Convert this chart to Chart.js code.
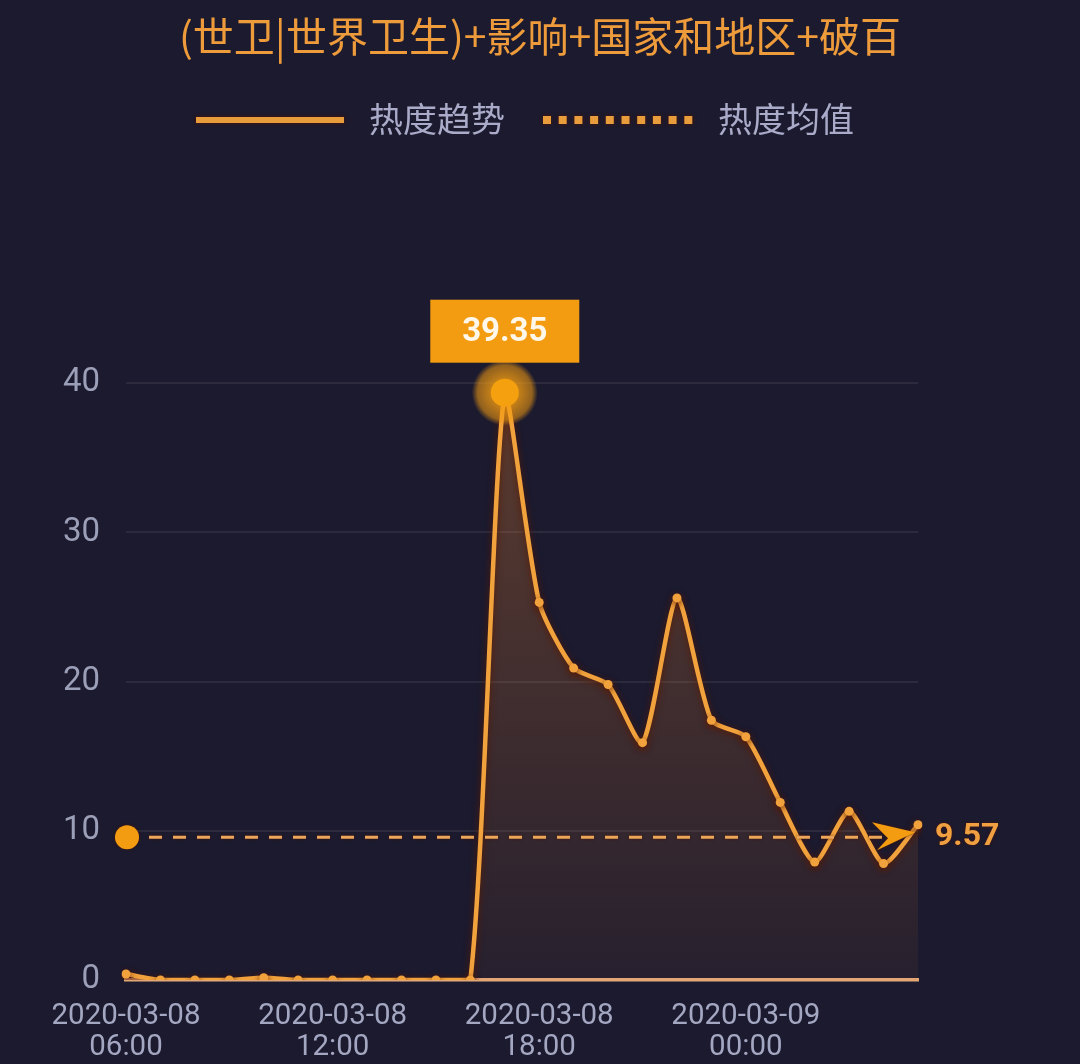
<!DOCTYPE html>
<html>
<head>
<meta charset="utf-8">
<script src="https://cdn.jsdelivr.net/npm/chart.js@4.4.1/dist/chart.umd.min.js"></script>
<style>
  html, body { margin: 0; padding: 0; background: #1c1a2e; }
  #wrap { width: 1080px; height: 1064px; }
</style>
</head>
<body>
<div id="wrap"><canvas id="grafico" width="1080" height="1064"></canvas></div>
<script>
// dati del grafico
const titolo = '(世卫|世界卫生)+影响+国家和地区+破百';
const legendaNomi = ['热度趋势', '热度均值'];
const orari = [
  '2020-03-08 06:00', '2020-03-08 07:00', '2020-03-08 08:00', '2020-03-08 09:00',
  '2020-03-08 10:00', '2020-03-08 11:00', '2020-03-08 12:00', '2020-03-08 13:00',
  '2020-03-08 14:00', '2020-03-08 15:00', '2020-03-08 16:00', '2020-03-08 17:00',
  '2020-03-08 18:00', '2020-03-08 19:00', '2020-03-08 20:00', '2020-03-08 21:00',
  '2020-03-08 22:00', '2020-03-08 23:00', '2020-03-09 00:00', '2020-03-09 01:00',
  '2020-03-09 02:00', '2020-03-09 03:00', '2020-03-09 04:00', '2020-03-09 05:00'
];
const valori = [0.4, 0, 0, 0, 0.15, 0, 0, 0, 0, 0, 0, 39.35,
                25.3, 20.9, 19.8, 15.9, 25.6, 17.4, 16.3, 11.9, 7.9, 11.3, 7.8, 10.4];
const media = 9.57;
const yTicks = [0, 10, 20, 30, 40];

const ARANCIO = '#f2a23c';
const FONT = "Roboto, 'Noto Sans CJK SC', sans-serif";
const FONT_CJK = "'Noto Sans CJK SC', Roboto, sans-serif";

// sfondo
const sfondo = {
  id: 'sfondo',
  beforeDraw(chart) {
    const ctx = chart.ctx;
    ctx.save();
    ctx.fillStyle = '#1c1a2e';
    ctx.fillRect(0, 0, chart.width, chart.height);
    ctx.restore();
  }
};

// titolo e legenda
const titoloLegenda = {
  id: 'titoloLegenda',
  afterDraw(chart) {
    const ctx = chart.ctx;
    ctx.save();
    ctx.fillStyle = '#ee9b3b';
    ctx.font = '41px ' + FONT_CJK;
    ctx.textAlign = 'center';
    ctx.textBaseline = 'middle';
    ctx.fillText(titolo, 540, 36);

    // linea continua
    ctx.shadowColor = 'rgba(80,20,0,0.9)';
    ctx.shadowBlur = 4;
    ctx.strokeStyle = '#e89c3c';
    ctx.lineWidth = 6;
    ctx.beginPath();
    ctx.moveTo(196, 120);
    ctx.lineTo(344, 120);
    ctx.stroke();
    // quadratini
    ctx.fillStyle = '#e89c3c';
    for (let i = 0; i < 10; i++) {
      ctx.fillRect(543 + i * 15.7, 116, 8, 8);
    }
    ctx.shadowBlur = 0;
    ctx.shadowColor = 'transparent';

    ctx.fillStyle = '#a9abc9';
    ctx.font = '34px ' + FONT_CJK;
    ctx.textAlign = 'left';
    ctx.fillText(legendaNomi[0], 369, 119);
    ctx.fillText(legendaNomi[1], 718, 119);
    ctx.restore();
  }
};

// ombra della linea
const ombraLinea = {
  id: 'ombraLinea',
  beforeDatasetDraw(chart) {
    const ctx = chart.ctx;
    ctx.save();
    ctx.shadowColor = 'rgba(90,25,0,0.95)';
    ctx.shadowBlur = 7;
    ctx.shadowOffsetY = 2;
  },
  afterDatasetDraw(chart) {
    chart.ctx.restore();
  }
};

// linea della media
const lineaMedia = {
  id: 'lineaMedia',
  afterDatasetsDraw(chart) {
    const ctx = chart.ctx;
    const area = chart.chartArea;
    const y = chart.scales.y.getPixelForValue(media);
    ctx.save();
    ctx.shadowColor = 'rgba(80,20,0,0.8)';
    ctx.shadowBlur = 3;
    ctx.strokeStyle = '#eba65a';
    ctx.lineWidth = 3;
    ctx.setLineDash([13, 11]);
    ctx.beginPath();
    ctx.moveTo(area.left + 23, y);
    ctx.lineTo(area.right - 30, y);
    ctx.stroke();
    ctx.setLineDash([]);

    // pallino iniziale
    ctx.fillStyle = '#f39c12';
    ctx.beginPath();
    ctx.arc(area.left + 1, y, 12, 0, Math.PI * 2);
    ctx.fill();

    // freccia
    const tx = area.right, ty = y;
    ctx.fillStyle = '#f39c12';
    ctx.beginPath();
    ctx.moveTo(tx - 3, ty - 5);
    ctx.lineTo(tx - 46, ty - 15);
    ctx.lineTo(tx - 30, ty + 1);
    ctx.lineTo(tx - 41, ty + 13);
    ctx.closePath();
    ctx.fill();

    ctx.fillStyle = '#f0a040';
    ctx.font = 'bold 32px ' + FONT;
    ctx.textAlign = 'left';
    ctx.textBaseline = 'middle';
    ctx.fillText(media.toFixed(2), area.right + 17, y);
    ctx.restore();
  }
};

// etichetta del massimo
const etichettaMax = {
  id: 'etichettaMax',
  afterDatasetsDraw(chart) {
    const ctx = chart.ctx;
    const meta = chart.getDatasetMeta(0);
    let idx = 0;
    valori.forEach((v, i) => { if (v > valori[idx]) idx = i; });
    const p = meta.data[idx];
    ctx.save();
    const g = ctx.createRadialGradient(p.x, p.y, 10, p.x, p.y, 33);
    g.addColorStop(0, 'rgba(243,156,18,0.85)');
    g.addColorStop(0.75, 'rgba(243,156,18,0.55)');
    g.addColorStop(1, 'rgba(243,156,18,0)');
    ctx.fillStyle = g;
    ctx.beginPath();
    ctx.arc(p.x, p.y, 33, 0, Math.PI * 2);
    ctx.fill();
    ctx.fillStyle = '#f5a00f';
    ctx.beginPath();
    ctx.arc(p.x, p.y, 14, 0, Math.PI * 2);
    ctx.fill();

    const w = 149, h = 63;
    const bottom = p.y - 30;
    ctx.fillStyle = '#f39c12';
    ctx.fillRect(p.x - w / 2, bottom - h, w, h);
    ctx.fillStyle = '#fff8ea';
    ctx.font = 'bold 33px ' + FONT;
    ctx.textAlign = 'center';
    ctx.textBaseline = 'middle';
    ctx.fillText(valori[idx].toFixed(2), p.x, bottom - h / 2 + 2);
    ctx.restore();
  }
};

const ctx = document.getElementById('grafico').getContext('2d');
const grafico = new Chart(ctx, {
  type: 'line',
  data: {
    labels: orari,
    datasets: [{
      label: legendaNomi[0],
      data: valori,
      borderColor: ARANCIO,
      borderWidth: 4.5,
      tension: 0.22,
      pointRadius: 4.5,
      pointBackgroundColor: ARANCIO,
      pointBorderWidth: 0,
      fill: 'origin',
      backgroundColor: function(context) {
        const area = context.chart.chartArea;
        if (!area) return 'rgba(242,162,60,0.2)';
        const g = context.chart.ctx.createLinearGradient(0, area.top, 0, area.bottom);
        g.addColorStop(0, 'rgba(242,140,50,0.3)');
        g.addColorStop(1, 'rgba(242,140,50,0.05)');
        return g;
      }
    }]
  },
  options: {
    responsive: false,
    animation: false,
    devicePixelRatio: 1,
    layout: { padding: { top: 383, right: 162, left: 0, bottom: 0 } },
    plugins: {
      legend: { display: false },
      title: { display: false },
      tooltip: { enabled: false }
    },
    scales: {
      x: {
        type: 'category',
        afterFit: function(scale) { scale.height = 84; },
        grid: { display: false, drawTicks: false },
        border: { display: true, color: '#e3a877', width: 3.5 },
        ticks: {
          autoSkip: false,
          maxRotation: 0,
          padding: 22,
          color: '#a4a7c2',
          font: { family: FONT, size: 29.5, lineHeight: 1.02 },
          callback: function(value, index) {
            return index % 6 === 0 ? orari[index].split(' ') : '';
          }
        }
      },
      y: {
        min: yTicks[0],
        max: yTicks[yTicks.length - 1],
        afterFit: function(scale) { scale.width = 126; },
        afterBuildTicks: function(scale) { scale.ticks = yTicks.map(v => ({ value: v })); },
        grid: {
          drawTicks: false,
          color: function(c) { return c.tick && c.tick.value === 0 ? 'transparent' : 'rgba(255,255,255,0.07)'; },
          lineWidth: 2
        },
        border: { display: false },
        ticks: {
          padding: 26,
          color: '#9c9fb8',
          font: { family: FONT, size: 33 }
        }
      }
    }
  },
  plugins: [sfondo, titoloLegenda, ombraLinea, lineaMedia, etichettaMax]
});
</script>
</body>
</html>
